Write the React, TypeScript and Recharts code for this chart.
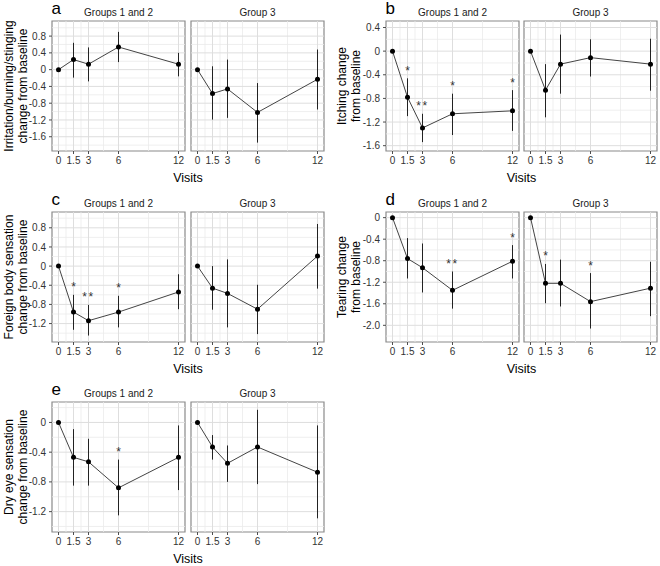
import React from 'react';
import {
  ComposedChart, Line, ErrorBar, Scatter, XAxis, YAxis, ReferenceLine, ReferenceArea,
} from 'recharts';

const FONT = '"Liberation Sans", Arial, Helvetica, sans-serif';

// visits (months)
const visits = [0, 1.5, 3, 6, 12];
const groupNames = ['Groups 1 and 2', 'Group 3'];

// a - irritation/burning/stinging
const irrTicks = [-1.6, -1.2, -0.8, -0.4, 0, 0.4, 0.8];
const irrG12Mean = [0, 0.24, 0.13, 0.54, 0.13];
const irrG12Lo = [0, -0.19, -0.28, 0.18, -0.16];
const irrG12Hi = [0, 0.64, 0.53, 0.9, 0.4];
const irrG3Mean = [0, -0.57, -0.46, -1.02, -0.23];
const irrG3Lo = [0, -1.19, -1.15, -1.74, -0.95];
const irrG3Hi = [0, 0.08, 0.24, -0.32, 0.48];

// b - itching
const itchTicks = [-1.6, -1.2, -0.8, -0.4, 0, 0.4];
const itchG12Mean = [0, -0.78, -1.3, -1.06, -1.01];
const itchG12Lo = [0, -1.1, -1.54, -1.42, -1.35];
const itchG12Hi = [0, -0.46, -1.06, -0.72, -0.66];
const itchG12Sig = ['', '*', '**', '*', '*'];
const itchG3Mean = [0, -0.66, -0.22, -0.11, -0.22];
const itchG3Lo = [0, -1.12, -0.72, -0.43, -0.67];
const itchG3Hi = [0, -0.22, 0.28, 0.2, 0.21];

// c - foreign body sensation
const fbTicks = [-1.2, -0.8, -0.4, 0, 0.4, 0.8];
const fbG12Mean = [0, -0.96, -1.14, -0.96, -0.54];
const fbG12Lo = [0, -1.33, -1.45, -1.28, -0.9];
const fbG12Hi = [0, -0.6, -0.81, -0.62, -0.17];
const fbG12Sig = ['', '*', '**', '*', ''];
const fbG3Mean = [0, -0.46, -0.57, -0.9, 0.21];
const fbG3Lo = [0, -0.91, -1.28, -1.42, -0.47];
const fbG3Hi = [0, 0, 0.14, -0.39, 0.88];

// d - tearing
const tearTicks = [-2.0, -1.6, -1.2, -0.8, -0.4, 0];
const tearG12Mean = [0, -0.76, -0.93, -1.35, -0.81];
const tearG12Lo = [0, -1.13, -1.39, -1.69, -1.13];
const tearG12Hi = [0, -0.38, -0.48, -1.0, -0.51];
const tearG12Sig = ['', '', '', '**', '*'];
const tearG3Mean = [0, -1.22, -1.22, -1.56, -1.31];
const tearG3Lo = [0, -1.59, -1.65, -2.06, -1.83];
const tearG3Hi = [0, -0.86, -0.78, -1.03, -0.82];
const tearG3Sig = ['', '*', '', '*', ''];

// e - dry eye sensation
const dryTicks = [-1.2, -0.8, -0.4, 0];
const dryG12Mean = [0, -0.47, -0.53, -0.88, -0.47];
const dryG12Lo = [0, -0.85, -0.85, -1.25, -0.91];
const dryG12Hi = [0, -0.09, -0.22, -0.5, -0.04];
const dryG12Sig = ['', '', '', '*', ''];
const dryG3Mean = [0, -0.33, -0.55, -0.33, -0.67];
const dryG3Lo = [0, -0.5, -0.8, -0.83, -1.29];
const dryG3Hi = [0, -0.17, -0.31, 0.17, -0.04];

type Series = { mean: number[]; lo: number[]; hi: number[]; sig?: string[] };
type Panel = {
  letter: string; col: number; row: number; title: string[];
  domain: [number, number]; ticks: number[]; groups: Series[];
};

const panels: Panel[] = [
  { letter: 'a', col: 0, row: 0, title: ['Irritation/burning/stinging', 'change from baseline'], domain: [-1.94, 1.16], ticks: irrTicks,
    groups: [{ mean: irrG12Mean, lo: irrG12Lo, hi: irrG12Hi }, { mean: irrG3Mean, lo: irrG3Lo, hi: irrG3Hi }] },
  { letter: 'b', col: 1, row: 0, title: ['Itching change', 'from baseline'], domain: [-1.69, 0.51], ticks: itchTicks,
    groups: [{ mean: itchG12Mean, lo: itchG12Lo, hi: itchG12Hi, sig: itchG12Sig }, { mean: itchG3Mean, lo: itchG3Lo, hi: itchG3Hi }] },
  { letter: 'c', col: 0, row: 1, title: ['Foreign body sensation', 'change from baseline'], domain: [-1.585, 1.13], ticks: fbTicks,
    groups: [{ mean: fbG12Mean, lo: fbG12Lo, hi: fbG12Hi, sig: fbG12Sig }, { mean: fbG3Mean, lo: fbG3Lo, hi: fbG3Hi }] },
  { letter: 'd', col: 1, row: 1, title: ['Tearing change', 'from baseline'], domain: [-2.31, 0.105], ticks: tearTicks,
    groups: [{ mean: tearG12Mean, lo: tearG12Lo, hi: tearG12Hi, sig: tearG12Sig }, { mean: tearG3Mean, lo: tearG3Lo, hi: tearG3Hi, sig: tearG3Sig }] },
  { letter: 'e', col: 0, row: 2, title: ['Dry eye sensation', 'change from baseline'], domain: [-1.474, 0.275], ticks: dryTicks,
    groups: [{ mean: dryG12Mean, lo: dryG12Lo, hi: dryG12Hi, sig: dryG12Sig }, { mean: dryG3Mean, lo: dryG3Lo, hi: dryG3Hi }] },
];

// layout (page px)
const X_DOMAIN: [number, number] = [-0.65, 12.65];
const PLOT_W = 133;
const PLOT_H = 130;
const AXIS_H = 22;
const COLS = [
  { start: 0, lefts: [52, 191], titleX: [12.5, 27] },
  { start: 330, lefts: [386, 524], titleX: [16, 30] },
];
const ROW_TOPS = [21, 212, 402];

const TICK_COLOR = '#333';
const TICK_STYLE = { fontSize: 10, fill: TICK_COLOR, fontFamily: FONT };
const GRID_MAJOR = '#dedede';
const GRID_MINOR = '#ebebeb';

const mids = (t: number[]) => {
  const s = [...t].sort((a, b) => a - b);
  const out = [s[0] - (s[1] - s[0]) / 2];
  for (let i = 0; i < s.length - 1; i++) out.push((s[i] + s[i + 1]) / 2);
  out.push(s[s.length - 1] + (s[s.length - 1] - s[s.length - 2]) / 2);
  return out.map((v) => Math.round(v * 1000) / 1000);
};

const fmtY = (v: number) => (v === 0 ? '0' : v.toFixed(1));

function YTitle({ lines, xs, cy }: { lines: string[]; xs: number[]; cy: number }) {
  return (
    <g>
      {lines.map((t, i) => (
        <text key={i} transform={`translate(${xs[i]},${cy}) rotate(-90)`} textAnchor="middle"
          fontSize={12} fontFamily={FONT} fill="#000">{t}</text>
      ))}
    </g>
  );
}

const StarShape = (p: any) => (
  <text x={p.cx} y={p.cy - 3.5} textAnchor="middle" fontSize={12} fontFamily={FONT} fill="#333"
    letterSpacing={p.payload.sig.length > 1 ? 1.5 : 0}>{p.payload.sig}</text>
);

function Facet({ panel, series, idx }: { panel: Panel; series: Series; idx: number }) {
  const col = COLS[panel.col];
  const top = ROW_TOPS[panel.row];
  const plotLeft = col.lefts[idx];
  const withAxis = idx === 0;
  const yw = withAxis ? plotLeft - col.start : 0;
  const width = withAxis ? plotLeft + PLOT_W + 1 - col.start : PLOT_W + 2;
  const divLeft = withAxis ? col.start : plotLeft - 1;

  const rows = visits.map((v, i) => ({
    visit: v,
    mean: series.mean[i],
    err: [series.mean[i] - series.lo[i], series.hi[i] - series.mean[i]],
  }));
  const stars = visits
    .map((v, i) => ({ visit: v, top: series.hi[i], sig: series.sig ? series.sig[i] : '' }))
    .filter((d) => d.sig);

  const [y0, y1] = panel.domain;
  const xMinor = mids(visits);
  const yMinor = mids(panel.ticks);

  return (
    <div style={{ position: 'absolute', left: divLeft, top: top - 2 }}>
      <ComposedChart width={width} height={PLOT_H + 2 + AXIS_H} data={rows}
        margin={{ top: 2, right: 1, bottom: 0, left: withAxis ? 0 : 1 }}>
        <XAxis dataKey="visit" type="number" domain={X_DOMAIN} ticks={visits} interval={0} allowDataOverflow
          axisLine={false} tickLine={{ stroke: '#4d4d4d' }} tickSize={3} tickMargin={3} height={AXIS_H}
          tick={TICK_STYLE} />
        <YAxis type="number" domain={panel.domain} ticks={panel.ticks} interval={0} allowDataOverflow hide={!withAxis}
          width={yw} axisLine={false} tickLine={{ stroke: '#4d4d4d' }} tickSize={3} tickMargin={3}
          tickFormatter={fmtY} tick={TICK_STYLE}
          label={withAxis ? <YTitle lines={panel.title} xs={col.titleX} cy={2 + PLOT_H / 2} /> : undefined} />
        {xMinor.map((v) => <ReferenceLine key={`xm${v}`} x={v} stroke={GRID_MINOR} strokeWidth={0.8} />)}
        {yMinor.map((v) => <ReferenceLine key={`ym${v}`} y={v} stroke={GRID_MINOR} strokeWidth={0.8} />)}
        {visits.map((v) => <ReferenceLine key={`xM${v}`} x={v} stroke={GRID_MAJOR} strokeWidth={1} />)}
        {panel.ticks.map((v) => <ReferenceLine key={`yM${v}`} y={v} stroke={GRID_MAJOR} strokeWidth={1} />)}
        <ReferenceArea x1={X_DOMAIN[0]} x2={X_DOMAIN[1]} y1={y0} y2={y1} fill="none" fillOpacity={0}
          stroke="#8a8a8a" strokeWidth={1.2} ifOverflow="visible" />
        <Line dataKey="mean" type="linear" stroke="#444" strokeWidth={1}
          dot={{ r: 2.5, fill: '#000', stroke: '#000', strokeWidth: 0 }} activeDot={false} isAnimationActive={false}>
          <ErrorBar dataKey="err" direction="y" width={0} stroke="#222" strokeWidth={1} isAnimationActive={false} />
        </Line>
        {stars.length > 0 && (
          <Scatter data={stars} dataKey="top" shape={StarShape} isAnimationActive={false} />
        )}
      </ComposedChart>
    </div>
  );
}

export default function App() {
  return (
    <div style={{ position: 'absolute', left: 0, top: 0, width: 660, height: 566, background: '#fff', fontFamily: FONT }}>
      {panels.map((p) => p.groups.map((s, i) => <Facet key={`${p.letter}${i}`} panel={p} series={s} idx={i} />))}
      <svg width={660} height={566} style={{ position: 'absolute', left: 0, top: 0, pointerEvents: 'none' }}>
        {panels.map((p) => {
          const col = COLS[p.col];
          const top = ROW_TOPS[p.row];
          const left = col.lefts[0];
          return (
            <g key={p.letter}>
              <text x={left - 0.5} y={top - 7} fontSize={17} fontFamily={FONT} fill="#000">{p.letter}</text>
              {groupNames.map((g, i) => (
                <text key={g} x={col.lefts[i] + PLOT_W / 2} y={top - 5} textAnchor="middle" fontSize={10}
                  fontFamily={FONT} fill="#1a1a1a">{g}</text>
              ))}
              <text x={(col.lefts[0] + col.lefts[1] + PLOT_W) / 2} y={top + PLOT_H + 30.5} textAnchor="middle"
                fontSize={12.5} fontFamily={FONT} fill="#000">Visits</text>
            </g>
          );
        })}
      </svg>
    </div>
  );
}
